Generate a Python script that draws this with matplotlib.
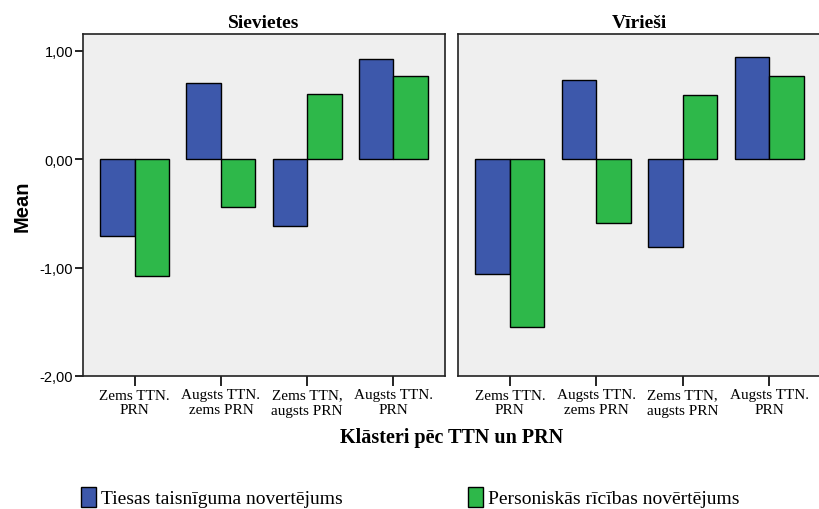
import matplotlib
matplotlib.use("Agg")
import matplotlib.pyplot as plt
import numpy as np

categories = ["Zems TTN.\nPRN", "Augsts TTN.\nzems PRN", "Zems TTN,\naugsts PRN", "Augsts TTN.\nPRN"]
panels = ["Sievietes", "Vīrieši"]
series_names = ["Tiesas taisnīguma novertējums", "Personiskās rīcības novērtējums"]
women_ttn = [-0.71, 0.70, -0.62, 0.92]
women_prn = [-1.08, -0.44, 0.60, 0.77]
men_ttn = [-1.06, 0.73, -0.81, 0.94]
men_prn = [-1.55, -0.59, 0.59, 0.77]
yticks = [-2, -1, 0, 1]
ytick_labels = ["-2,00", "-1,00", "0,00", "1,00"]

blue = '#3D58AB'
green = '#2EB84A'
bg = '#EFEFEF'
serif = 'Liberation Serif'
sans = 'Liberation Sans'

fig = plt.figure(figsize=(8.19, 5.10), dpi=100)
ax1 = fig.add_axes([83 / 819, 1 - 377 / 510, 362 / 819, 342 / 510])
ax2 = fig.add_axes([458 / 819, 1 - 377 / 510, 363 / 819, 342 / 510])

x = np.arange(len(categories))
w = 0.4
data = [(women_ttn, women_prn), (men_ttn, men_prn)]
for ax, title, (ttn, prn) in zip([ax1, ax2], panels, data):
    ax.set_facecolor(bg)
    b1 = ax.bar(x - w / 2, ttn, w, color=blue, edgecolor='black', linewidth=1)
    b2 = ax.bar(x + w / 2, prn, w, color=green, edgecolor='black', linewidth=1)
    ax.set_xlim(-0.6, 3.6)
    ax.set_ylim(-2.0, 1.155)
    ax.set_xticks(x)
    ax.set_xticklabels(categories, fontfamily=serif, fontsize=11, linespacing=1.2)
    ax.tick_params(axis='x', length=7, width=1.2, direction='out', pad=2)
    ax.set_title(title, fontfamily=serif, fontweight='bold', fontsize=14, pad=5)
    for s in ax.spines.values():
        s.set_linewidth(1.2)
        s.set_color('#222222')

ax1.set_yticks(yticks)
ax1.set_yticklabels(ytick_labels, fontfamily=sans, fontsize=10.5)
ax1.tick_params(axis='y', length=6, width=1.2, direction='out', pad=1)
ax1.set_ylabel('Mean', fontfamily=sans, fontweight='bold', fontsize=14.5, labelpad=6)
ax2.set_yticks([])

fig.text(452 / 819, 1 - 438 / 510, "Klāsteri pēc TTN un PRN", ha='center', va='center',
         fontfamily=serif, fontweight='bold', fontsize=14.5)

leg_kw = dict(frameon=False, prop={'family': serif, 'size': 14}, handlelength=0.75,
              handleheight=1.2, handletextpad=0.3, borderpad=0, borderaxespad=0)
fig.legend([b1], [series_names[0]], loc='center left', bbox_to_anchor=(81 / 819, 1 - 498 / 510), **leg_kw)
fig.legend([b2], [series_names[1]], loc='center left', bbox_to_anchor=(468 / 819, 1 - 498 / 510), **leg_kw)

fig.savefig('out.png', dpi=100)
